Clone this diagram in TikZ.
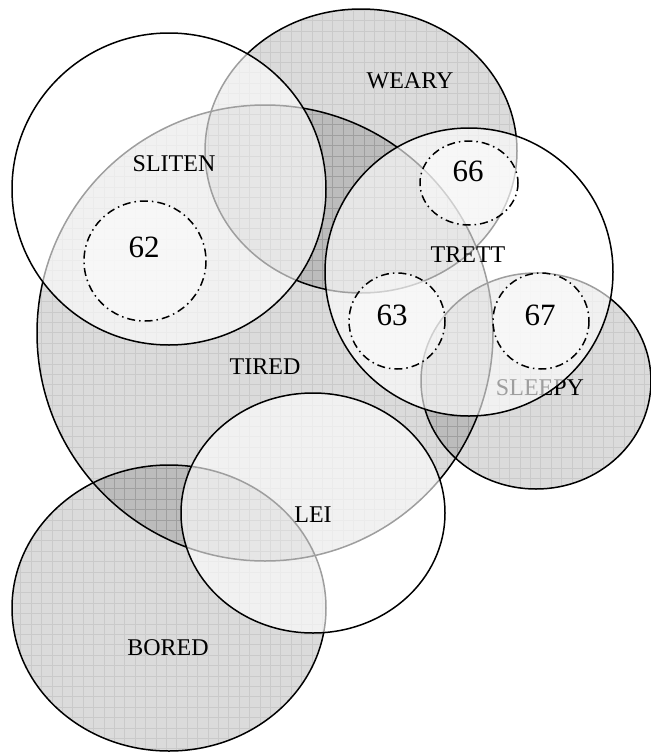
\documentclass[tikz,border=0pt]{standalone}
\usepackage{fontspec}
\setmainfont{Liberation Serif}
\tikzset{
  grayset/.style={draw=black, line width=1.5pt, fill=black, fill opacity=0.14},
  whiteset/.style={draw=black, line width=1.5pt, fill=white, fill opacity=0.62},
  ringline/.style={draw=black, line width=1.5pt, dash pattern=on 8pt off 4pt on 1.5pt off 4pt},
  ringfill/.style={fill=white, fill opacity=0.5},
  gridline/.style={draw=black, opacity=0.08, line width=0.9pt},
  lbl/.style={font=\fontsize{24}{26}\selectfont, inner sep=0pt},
  num/.style={font=\fontsize{31}{33}\selectfont, inner sep=0pt},
}
\begin{document}
\begin{tikzpicture}[x=1pt,y=-1pt]
\useasboundingbox (0,0) rectangle (651,753);
% gray sets
\path[grayset] (265,333) ellipse [x radius=228, y radius=228];
\path[grayset] (361,151) ellipse [x radius=156, y radius=142];
\path[grayset] (536,381) ellipse [x radius=115, y radius=108];
\path[grayset] (169,608) ellipse [x radius=157, y radius=143];
% grid texture
\begin{scope}
\clip (265,333) ellipse [x radius=228, y radius=228];
\draw[gridline, step=10.4pt] (0,0) grid (651,753);
\end{scope}
\begin{scope}
\clip (361,151) ellipse [x radius=156, y radius=142];
\draw[gridline, step=10.4pt] (0,0) grid (651,753);
\end{scope}
\begin{scope}
\clip (536,381) ellipse [x radius=115, y radius=108];
\draw[gridline, step=10.4pt] (0,0) grid (651,753);
\end{scope}
\begin{scope}
\clip (169,608) ellipse [x radius=157, y radius=143];
\draw[gridline, step=10.4pt] (0,0) grid (651,753);
\end{scope}
\node[lbl] (sleepy) at (540,388) {SLEEPY};
% inner ring fills
\path[ringfill] (145,261) ellipse [x radius=61, y radius=60];
\path[ringfill] (469,183) ellipse [x radius=49, y radius=42];
\path[ringfill] (397,321) ellipse [x radius=48, y radius=48];
\path[ringfill] (541,321) ellipse [x radius=48, y radius=48];
% white sets
\path[whiteset] (169,189) ellipse [x radius=157, y radius=156];
\path[whiteset] (469,272) ellipse [x radius=144, y radius=144];
\path[whiteset] (313,513) ellipse [x radius=132, y radius=120];
% dash-dot rings
\path[ringline] (145,261) ellipse [x radius=61, y radius=60];
\path[ringline] (469,183) ellipse [x radius=49, y radius=42];
\path[ringline] (397,321) ellipse [x radius=48, y radius=48];
\path[ringline] (541,321) ellipse [x radius=48, y radius=48];
% labels
\node[lbl] (weary) at (410,81) {WEARY};
\node[lbl] (sliten) at (174,164) {SLITEN};
\node[lbl] (trett) at (468,255) {TRETT};
\node[lbl] (tired) at (265,367) {TIRED};
\node[lbl] (lei) at (313,515) {LEI};
\node[lbl] (bored) at (168,648) {BORED};
\node[num] (n62) at (144,247) {62};
\node[num] (n66) at (468,171) {66};
\node[num] (n63) at (392,315) {63};
\node[num] (n67) at (540,315) {67};
\end{tikzpicture}
\end{document}
